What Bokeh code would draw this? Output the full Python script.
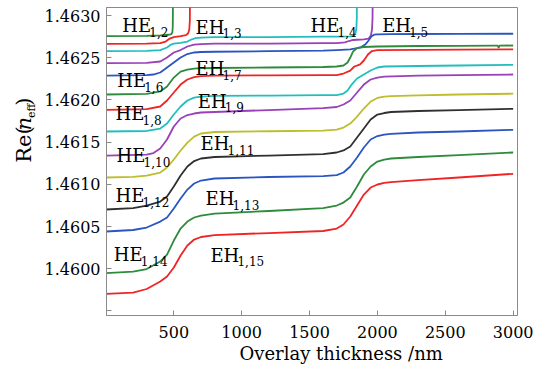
import math
from bokeh.plotting import figure
from bokeh.layouts import row
from bokeh.models import Range1d, FixedTicker, Title
from bokeh.core.properties import value
from bokeh.embed import file_html
from bokeh.resources import INLINE

# ---------------- data (overlay thickness in nm, Re(n_eff)) ----------------
he12_x = [0, 300, 400, 460, 482, 489, 492, 493, 494]
he12_n = [1.462755, 1.462759, 1.462765, 1.462772, 1.462781, 1.462799, 1.462858, 1.463000, 1.4634]

eh13_x = [0, 300, 400, 440, 470, 500, 550, 590, 605, 614, 618, 620]
eh13_n = [1.462665, 1.462668, 1.462674, 1.462692, 1.462727, 1.462745, 1.462757, 1.462769,
          1.462787, 1.462834, 1.462941, 1.4634]

he14_x = [0, 300, 400, 450, 480, 500, 550, 600, 630, 660, 700, 800, 1200, 1600, 1700, 1800,
          1825, 1838, 1845, 1848, 1850]
he14_n = [1.462577, 1.462582, 1.462591, 1.462621, 1.462656, 1.462668, 1.462677, 1.462692,
          1.462716, 1.462733, 1.462739, 1.462743, 1.462745, 1.462749, 1.462751, 1.462754,
          1.462763, 1.462787, 1.462846, 1.462964, 1.4634]

eh15_x = [0, 300, 400, 450, 500, 550, 600, 650, 700, 800, 1200, 1600, 1700, 1760, 1790, 1820,
          1850, 1900, 1935, 1952, 1960, 1964, 1966]
eh15_n = [1.462435, 1.462440, 1.462455, 1.462502, 1.462562, 1.462591, 1.462633, 1.462656,
          1.462662, 1.462666, 1.462668, 1.462672, 1.462674, 1.462682, 1.462698, 1.462710,
          1.462713, 1.462718, 1.462727, 1.462763, 1.462834, 1.462964, 1.4634]

he16_x = [0, 300, 350, 400, 450, 500, 550, 600, 650, 700, 800, 1200, 1600, 1700, 1800, 1850,
          1880, 1910, 1935, 1955, 1975, 2000, 2100, 2300, 2600, 3000]
he16_n = [1.462289, 1.462293, 1.462301, 1.462325, 1.462384, 1.462443, 1.462502, 1.462544,
          1.462562, 1.462568, 1.462571, 1.462577, 1.462585, 1.462591, 1.462600, 1.462615,
          1.462627, 1.462656, 1.462704, 1.462751, 1.462773, 1.462777, 1.462780, 1.462781,
          1.462783, 1.462784]

eh17_x = [0, 300, 400, 450, 500, 550, 600, 650, 700, 800, 1200, 1600, 1700, 1750, 1780, 1800,
          1820, 1850, 1900, 2000, 2300, 2600, 2870, 2885, 2893, 2900, 3000]
eh17_n = [1.462064, 1.462072, 1.462100, 1.462159, 1.462265, 1.462336, 1.462360, 1.462372,
          1.462376, 1.462378, 1.462384, 1.462390, 1.462396, 1.462408, 1.462443, 1.462502,
          1.462573, 1.462615, 1.462627, 1.462633, 1.462639, 1.462641, 1.462643, 1.462643,
          1.462621, 1.462643, 1.462645]

he18_x = [0, 300, 400, 450, 500, 550, 600, 650, 700, 800, 1200, 1600, 1700, 1750, 1800, 1830,
          1870, 1900, 1930, 1960, 2000, 2300, 2600, 3000]
he18_n = [1.461883, 1.461892, 1.461922, 1.461993, 1.462088, 1.462182, 1.462242, 1.462271,
          1.462283, 1.462289, 1.462291, 1.462295, 1.462295, 1.462313, 1.462348, 1.462396,
          1.462419, 1.462467, 1.462538, 1.462579, 1.462589, 1.462592, 1.462595, 1.462600]

eh19_x = [0, 300, 400, 450, 500, 550, 600, 650, 700, 800, 1200, 1600, 1700, 1750, 1780, 1810,
          1850, 1900, 1950, 2000, 2050, 2300, 2600, 3000]
eh19_n = [1.461626, 1.461632, 1.461661, 1.461720, 1.461827, 1.461922, 1.461993, 1.462028,
          1.462040, 1.462049, 1.462052, 1.462057, 1.462058, 1.462076, 1.462111, 1.462182,
          1.462254, 1.462301, 1.462348, 1.462384, 1.462396, 1.462402, 1.462408, 1.462416]

he110_x = [0, 300, 350, 400, 450, 500, 550, 600, 650, 700, 800, 1200, 1600, 1700, 1750, 1800,
           1850, 1900, 1950, 2000, 2050, 2300, 2600, 3000]
he110_n = [1.461341, 1.461353, 1.461371, 1.461424, 1.461531, 1.461685, 1.461780, 1.461821,
           1.461839, 1.461851, 1.461857, 1.461880, 1.461904, 1.461916, 1.461946, 1.461993,
           1.462088, 1.462182, 1.462242, 1.462265, 1.462277, 1.462289, 1.462293, 1.462301]

grid_x = [0, 200, 300, 400, 450, 500, 550, 600, 650, 700, 800, 1200, 1600, 1700, 1750, 1800,
          1850, 1900, 1950, 2000, 2050, 2100, 2300, 2600, 3000]
eh111_n = [1.461081, 1.461089, 1.461104, 1.461140, 1.461199, 1.461294, 1.461401, 1.461495,
           1.461566, 1.461602, 1.461620, 1.461629, 1.461637, 1.461649, 1.461673, 1.461720,
           1.461803, 1.461898, 1.461981, 1.462023, 1.462040, 1.462046, 1.462055, 1.462064, 1.462074]
he112_n = [1.460702, 1.460719, 1.460749, 1.460796, 1.460856, 1.460974, 1.461104, 1.461211,
           1.461276, 1.461306, 1.461324, 1.461341, 1.461359, 1.461377, 1.461401, 1.461448,
           1.461555, 1.461661, 1.461768, 1.461827, 1.461845, 1.461857, 1.461869, 1.461880, 1.461895]
eh113_n = [1.460441, 1.460459, 1.460488, 1.460559, 1.460607, 1.460713, 1.460832, 1.460938,
           1.461010, 1.461045, 1.461069, 1.461087, 1.461098, 1.461110, 1.461140, 1.461211,
           1.461318, 1.461436, 1.461531, 1.461572, 1.461590, 1.461598, 1.461614, 1.461626, 1.461646]
he114_n = [1.459947, 1.459967, 1.459996, 1.460085, 1.460168, 1.460334, 1.460476, 1.460559,
           1.460607, 1.460630, 1.460654, 1.460684, 1.460719, 1.460749, 1.460784, 1.460844,
           1.460974, 1.461116, 1.461211, 1.461270, 1.461294, 1.461306, 1.461324, 1.461347, 1.461377]
eh115_n = [1.459703, 1.459718, 1.459760, 1.459848, 1.459908, 1.460014, 1.460157, 1.460275,
           1.460346, 1.460376, 1.460399, 1.460423, 1.460447, 1.460476, 1.460524, 1.460619,
           1.460749, 1.460879, 1.460962, 1.460998, 1.461016, 1.461027, 1.461051, 1.461081, 1.461125]

mode_type = ["HE", "EH", "HE", "EH", "HE", "EH", "HE", "EH", "HE", "EH", "HE", "EH", "HE", "EH"]
mode_sub = ["1,2", "1,3", "1,4", "1,5", "1,6", "1,7", "1,8", "1,9", "1,10", "1,11", "1,12",
            "1,13", "1,14", "1,15"]
label_x = [120, 660, 1507, 2035, 83, 660, 71, 677, 78, 697, 71, 734, 58, 770]
label_y = [1.462881, 1.462861, 1.462881, 1.462881, 1.462230, 1.462369, 1.461839, 1.461985,
           1.461341, 1.461480, 1.460867, 1.460828, 1.460168, 1.460157]

x_ticks = [500, 1000, 1500, 2000, 2500, 3000]
x_tick_labels = ["500", "1000", "1500", "2000", "2500", "3000"]
y_ticks = [1.4600, 1.4605, 1.4610, 1.4615, 1.4620, 1.4625, 1.4630]
y_tick_labels = ["1.4600", "1.4605", "1.4610", "1.4615", "1.4620", "1.4625", "1.4630"]
y_extra_ticks = [1.4595]

x_title = "Overlay thickness /nm"
y_title_parts = ["Re(", "n", "eff", ")"]

series = [
    (he12_x, he12_n, "#2E8B3C"),
    (eh13_x, eh13_n, "#F02424"),
    (he14_x, he14_n, "#22BEBE"),
    (eh15_x, eh15_n, "#9A40B8"),
    (he16_x, he16_n, "#2B55C0"),
    (eh17_x, eh17_n, "#2E8B3C"),
    (he18_x, he18_n, "#F02424"),
    (eh19_x, eh19_n, "#22BEBE"),
    (he110_x, he110_n, "#9A40B8"),
    (grid_x, eh111_n, "#BDBD2E"),
    (grid_x, he112_n, "#303030"),
    (grid_x, eh113_n, "#2B55C0"),
    (grid_x, he114_n, "#2E8B3C"),
    (grid_x, eh115_n, "#F02424"),
]

FONT = "DejaVu Serif"
SPINE = "#8a8a8a"
STRIP_W = 40

# ---------------- main plot ----------------
p = figure(width=548 - STRIP_W, height=371, output_backend="svg", toolbar_location=None,
           x_range=Range1d(4, 3032), y_range=Range1d(1.459446, 1.463095),
           min_border_left=106 - STRIP_W, min_border_right=31, min_border_top=7,
           min_border_bottom=56)
p.background_fill_color = "white"
p.border_fill_color = "white"
p.outline_line_color = SPINE
p.outline_line_width = 1
p.xgrid.visible = False
p.ygrid.visible = False

for xs, ns, col in series:
    p.line(xs, ns, line_color=col, line_width=1.8, line_join="round")

for ax in (p.xaxis[0], p.yaxis[0]):
    ax.axis_line_color = SPINE
    ax.major_tick_line_color = SPINE
    ax.major_tick_in = 5
    ax.major_tick_out = 0
    ax.minor_tick_line_color = SPINE
    ax.minor_tick_in = 5
    ax.minor_tick_out = 0
    ax.major_label_text_font = FONT
    ax.major_label_text_font_size = "16px"
    ax.major_label_text_color = "black"

p.xaxis.ticker = FixedTicker(ticks=x_ticks)
p.xaxis.major_label_overrides = dict(zip(x_ticks, x_tick_labels))
p.xaxis.major_label_standoff = 10
p.yaxis.ticker = FixedTicker(ticks=y_ticks, minor_ticks=y_extra_ticks)
p.yaxis.major_label_overrides = dict(zip(y_ticks, y_tick_labels))
p.yaxis.major_label_standoff = 6

p.text(x=label_x, y=label_y, text=mode_type, text_font=value(FONT), text_font_size="18px",
       text_color="black", text_baseline="alphabetic", text_align="left")
p.text(x=label_x, y=label_y, text=mode_sub, text_font=value(FONT), text_font_size="12px",
       text_color="black", text_baseline="alphabetic", text_align="left",
       x_offset=27, y_offset=6)

p.add_layout(Title(text=x_title, align="left", offset=133, text_font=FONT,
                   text_font_size="18px", text_font_style="normal", text_color="black",
                   standoff=0), "below")

# ---------------- y-axis title strip (pixel space, y downward) ----------------
ylab = figure(width=STRIP_W, height=371, output_backend="svg", toolbar_location=None,
              x_range=Range1d(0, STRIP_W), y_range=Range1d(371, 0),
              x_axis_location=None, y_axis_location=None,
              min_border=0, min_border_left=0, min_border_right=0,
              min_border_top=0, min_border_bottom=0)
ylab.outline_line_color = None
ylab.background_fill_color = "white"
ylab.border_fill_color = "white"
ylab.xgrid.visible = False
ylab.ygrid.visible = False

# centres of each piece of the rotated title
ypart_x = [23, 23, 31, 23]
ypart_y = [165, 140, 124.5, 113.5]
ypart_size = ["21px", "21px", "11px", "21px"]
ypart_style = ["normal", "italic", "normal", "normal"]
for t, xx, yy, sz, st in zip(y_title_parts, ypart_x, ypart_y, ypart_size, ypart_style):
    ylab.text(x=[xx], y=[yy], text=[t], angle=math.pi / 2, text_font=value(FONT),
              text_font_size=value(sz), text_font_style=value(st), text_color="black",
              text_align="center", text_baseline="middle")

layout = row(ylab, p, spacing=0)
open("out.html", "w").write(file_html(layout, INLINE))
